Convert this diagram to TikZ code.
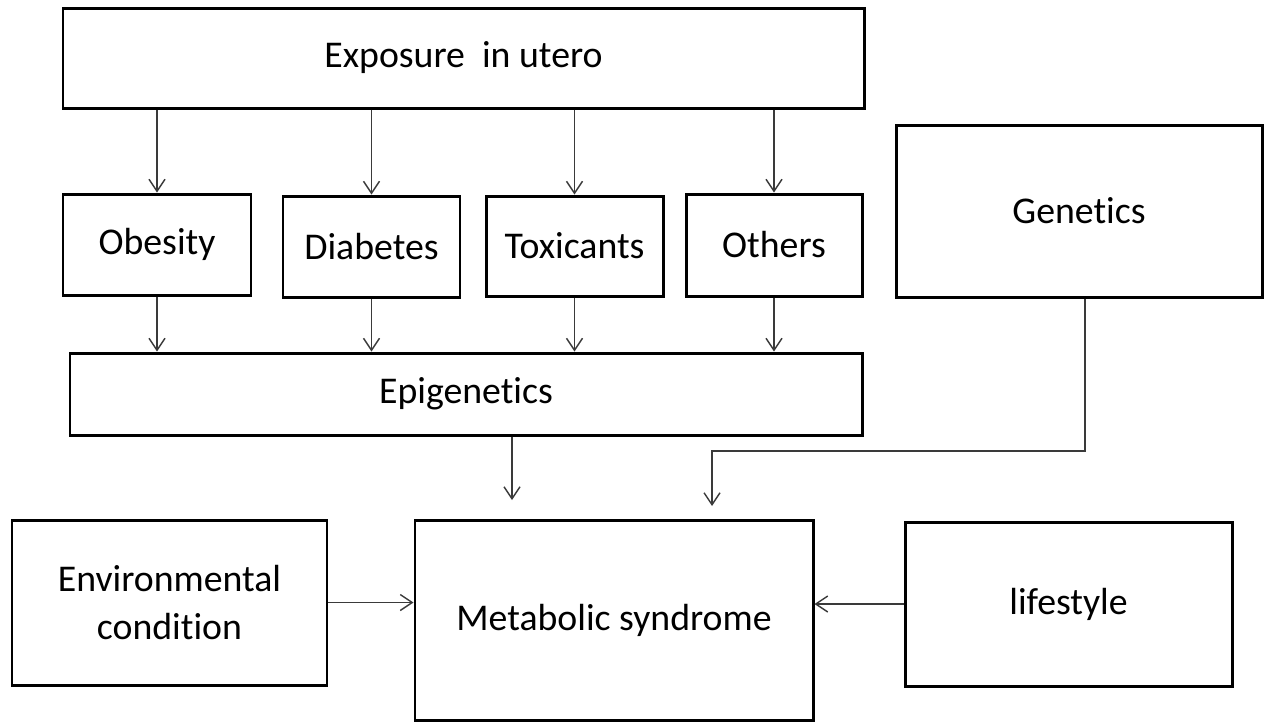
\documentclass[tikz,border=0pt]{standalone}
\usepackage{fontspec}
\setmainfont{Carlito}[Ligatures=NoCommon]
\usepackage{tikz}
\usetikzlibrary{arrows.meta,positioning,calc}
\definecolor{Frame}{HTML}{000000}
\definecolor{Wire}{HTML}{3A3A3A}

\begin{document}
\begin{tikzpicture}[
  box/.style={draw=Frame,line width=1.7pt,fill=white,align=center,
    font=\fontsize{21.5}{27}\selectfont,inner sep=4pt},
  arrow/.style={-{Straight Barb[length=2.4mm,width=3.2mm]},line width=0.8pt,Wire}]
  \useasboundingbox (0,0) rectangle (25.4,-14.48);

  \node[box,minimum width=16.02cm,minimum height=2.0cm] (exp) at (9.27,-1.16) {Exposure\ \ in utero};
  \node[box,minimum width=3.76cm,minimum height=2.02cm] (ob) at (3.14,-4.89) {Obesity};
  \node[box,minimum width=3.54cm,minimum height=2.02cm] (dia) at (7.43,-4.93) {Diabetes};
  \node[box,minimum width=3.54cm,minimum height=2.0cm] (tox) at (11.49,-4.92) {Toxicants};
  \node[box,minimum width=3.52cm,minimum height=2.04cm] (oth) at (15.48,-4.90) {Others};
  \node[box,minimum width=7.32cm,minimum height=3.44cm] (gen) at (21.58,-4.22) {Genetics};
  \node[box,minimum width=15.84cm,minimum height=1.64cm] (epi) at (9.32,-7.88) {Epigenetics};
  \node[box,minimum width=6.3cm,minimum height=3.3cm] (env) at (3.39,-12.05) {Environmental\\condition};
  \node[box,minimum width=7.96cm,minimum height=4.0cm] (met) at (12.28,-12.4) {Metabolic syndrome};
  \node[box,minimum width=6.54cm,minimum height=3.28cm] (life) at (21.37,-12.08) {lifestyle};

  % exposure to the four factors, then on to epigenetics
  \foreach \n in {ob,dia,tox,oth}{
    \draw[arrow] (exp.south -| \n.north) -- (\n.north);
    \draw[arrow] (\n.south) -- (\n.south |- epi.north);
  }

  \coordinate (m1) at (10.24,-10.0);
  \draw[arrow] (epi.south -| m1) -- (m1);

  \coordinate (g1) at (14.24,-9.02);
  \coordinate (g2) at (14.24,-10.12);
  \draw[arrow] ([xshift=0.12cm]gen.south) |- (g1) -- (g2);

  \draw[arrow] (env.east) -- (env.east -| met.west);
  \draw[arrow] (life.west) -- (life.west -| met.east);
\end{tikzpicture}
\end{document}
